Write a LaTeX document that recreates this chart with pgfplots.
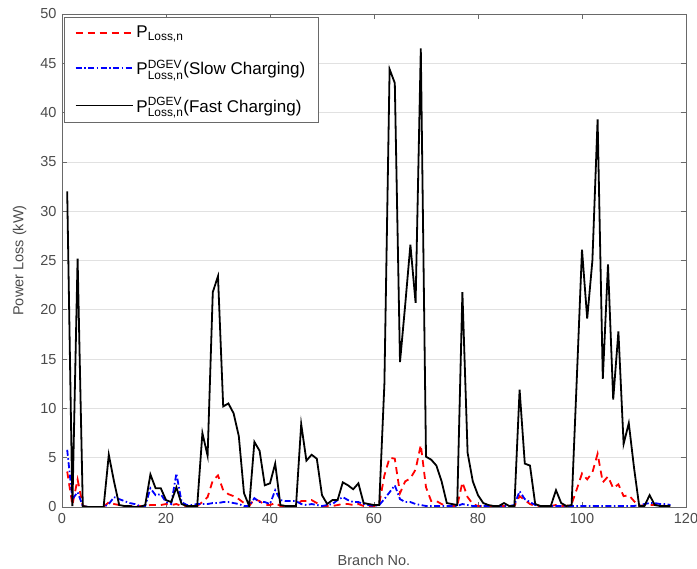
\documentclass[border=0pt]{standalone}
\usepackage{pgfplots}
\usepackage{pgfplotstable}
\usepackage{amsmath}
\usepackage{fontspec}
\setmainfont{Liberation Sans}
\pgfplotsset{compat=1.18}

\pgfplotstableread{
x red blue black
1 3.6 5.8 32.0
2 0.2 0.8 0.1
3 2.8 1.5 25.2
4 0.1 0.1 0.1
5 0.0 0.0 0.0
6 0.0 0.0 0.0
7 0.0 0.0 0.0
8 0.0 0.0 0.0
9 0.5 0.3 5.3
10 0.3 1.0 2.6
11 0.2 0.8 0.2
12 0.1 0.6 0.1
13 0.1 0.4 0.1
14 0.1 0.3 0.0
15 0.1 0.1 0.0
16 0.1 0.1 0.2
17 0.2 1.9 3.3
18 0.2 1.2 1.9
19 0.2 1.3 1.9
20 0.3 0.5 0.7
21 0.2 0.3 0.5
22 0.3 3.4 2.0
23 0.1 0.5 0.3
24 0.1 0.2 0.1
25 0.1 0.2 0.1
26 0.1 0.3 0.1
27 0.5 0.3 7.5
28 1.0 0.3 5.2
29 2.7 0.4 21.8
30 3.2 0.4 23.4
31 1.7 0.5 10.2
32 1.3 0.5 10.5
33 1.1 0.4 9.5
34 0.8 0.3 7.2
35 0.4 0.1 1.4
36 0.1 0.1 0.1
37 0.8 0.9 6.6
38 0.6 0.5 5.7
39 0.2 0.5 2.2
40 0.2 0.3 2.4
41 0.4 1.7 4.4
42 0.1 0.7 0.2
43 0.1 0.6 0.1
44 0.1 0.6 0.1
45 0.1 0.6 0.1
46 0.6 0.3 8.4
47 0.6 0.2 4.7
48 0.7 0.3 5.3
49 0.4 0.2 4.9
50 0.1 0.1 1.2
51 0.1 0.2 0.3
52 0.1 0.3 0.7
53 0.2 0.7 0.7
54 0.3 1.0 2.5
55 0.3 0.7 2.2
56 0.2 0.5 1.8
57 0.3 0.5 2.4
58 0.1 0.3 0.4
59 0.1 0.2 0.3
60 0.1 0.1 0.2
61 0.3 0.2 0.2
62 3.2 0.8 12.5
63 5.0 1.5 44.4
64 4.9 2.2 43.0
65 1.4 0.8 14.7
66 2.6 0.5 20.5
67 2.9 0.5 26.6
68 3.8 0.3 20.7
69 6.3 0.2 46.5
70 2.0 0.1 5.1
71 0.6 0.1 4.8
72 0.6 0.1 4.2
73 0.3 0.1 2.6
74 0.1 0.1 0.4
75 0.1 0.1 0.3
76 0.1 0.1 0.2
77 2.5 0.3 21.8
78 1.0 0.2 5.5
79 0.3 0.1 2.6
80 0.1 0.1 1.2
81 0.1 0.1 0.4
82 0.1 0.1 0.2
83 0.1 0.1 0.1
84 0.1 0.1 0.1
85 0.1 0.1 0.4
86 0.1 0.1 0.1
87 0.1 0.2 0.1
88 1.1 1.6 11.9
89 0.7 0.8 4.4
90 0.3 0.5 4.2
91 0.1 0.2 0.3
92 0.1 0.1 0.1
93 0.1 0.1 0.1
94 0.1 0.1 0.1
95 0.2 0.1 1.7
96 0.1 0.1 0.4
97 0.1 0.1 0.1
98 0.3 0.1 0.2
99 1.8 0.1 13.0
100 3.4 0.1 26.1
101 2.8 0.1 19.1
102 3.5 0.1 25.0
103 5.4 0.1 39.3
104 2.5 0.1 13.0
105 3.1 0.1 24.6
106 1.9 0.1 10.9
107 2.3 0.1 17.8
108 1.1 0.1 6.4
109 1.2 0.1 8.5
110 0.6 0.1 4.0
111 0.1 0.2 0.1
112 0.2 0.3 0.1
113 0.2 0.4 1.2
114 0.2 0.4 0.2
115 0.2 0.3 0.1
116 0.1 0.3 0.1
117 0.1 0.2 0.1
}\datatable

\definecolor{axgray}{RGB}{105,105,105}
\definecolor{txtgray}{RGB}{75,75,75}
\definecolor{gridgray}{RGB}{225,225,225}

\tikzset{
  redline/.style={red, line width=1.8pt, dash pattern=on 7pt off 5pt},
  blueline/.style={blue, line width=1.8pt, dash pattern=on 6pt off 2.5pt on 1.5pt off 2.5pt},
  blackline/.style={black, line width=1.8pt},
}

\begin{document}
\begin{tikzpicture}
\begin{axis}[
  scale only axis,
  width=624pt, height=493pt,
  xmin=0, xmax=120, ymin=0, ymax=50,
  xtick={0,20,...,120}, ytick={0,5,...,50},
  tick align=inside,
  major tick length=5pt,
  axis line style={axgray, line width=0.7pt},
  tick style={axgray, line width=0.7pt},
  ymajorgrids,
  grid style={gridgray, line width=0.7pt},
  /pgf/number format/assume math mode=true,
  tick label style={font=\fontsize{14.5}{16}\selectfont, text=txtgray},
  xticklabel style={yshift=-3pt},
  yticklabel style={xshift=-2pt},
  label style={font=\fontsize{14.5}{16}\selectfont, text=txtgray},
  xlabel={Branch No.},
  ylabel={Power Loss (kW)},
  xlabel style={at={(axis description cs:0.5,-0.1075)}, anchor=center},
  ylabel style={at={(axis description cs:-0.068,0.5)}, anchor=center},
  legend cell align=left,
  legend style={at={(0.004,0.994)}, anchor=north west, draw=axgray,
    fill=white, font=\fontsize{17}{20}\selectfont,
    row sep=17pt, inner xsep=10pt, inner ysep=7pt,
    nodes={inner xsep=3pt}},
]
\addplot[redline, legend image code/.code={\draw[red, line width=1.8pt, dash pattern=on 7pt off 5pt] (0pt,0pt) -- (57pt,0pt);}] table[x=x, y=red] {\datatable};
\addlegendentry{P$_{\text{Loss,n}}$}
\addplot[blueline, legend image code/.code={\draw[blue, line width=1.8pt, dash pattern=on 6pt off 2.5pt on 1.5pt off 2.5pt] (0pt,0pt) -- (57pt,0pt);}] table[x=x, y=blue] {\datatable};
\addlegendentry{P$^{\text{DGEV}}_{\text{Loss,n}}$(Slow Charging)}
\addplot[blackline, legend image code/.code={\draw[black, line width=1.8pt, solid] (0pt,0pt) -- (57pt,0pt);}] table[x=x, y=black] {\datatable};
\addlegendentry{P$^{\text{DGEV}}_{\text{Loss,n}}$(Fast Charging)}
\end{axis}
\pgfresetboundingbox
\path ([xshift=-62pt,yshift=-62pt]current axis.south west) rectangle ([xshift=11pt,yshift=14pt]current axis.north east);
\end{tikzpicture}
\end{document}
